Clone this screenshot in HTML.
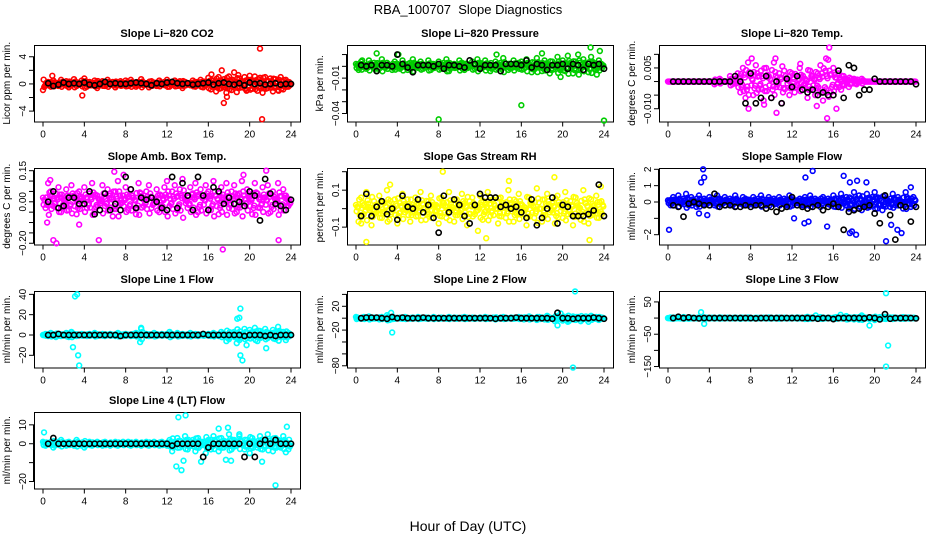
<!DOCTYPE html>
<html><head><meta charset="utf-8">
<style>
html,body{margin:0;padding:0;background:#fff;}
svg{display:block;font-family:"Liberation Sans",sans-serif;}
</style></head>
<body>
<svg id="chart" width="936" height="540" viewBox="0 0 936 540" xmlns="http://www.w3.org/2000/svg">
<text x="468" y="14" text-anchor="middle" font-size="13" style="white-space:pre">RBA_100707  Slope Diagnostics</text>
<text x="468" y="531" text-anchor="middle" font-size="14">Hour of Day (UTC)</text>
</svg>
<script>
const xTicks = [0,4,8,12,16,20,24];

const titles = ["Slope Li\u2212820 CO2","Slope Li\u2212820 Pressure","Slope Li\u2212820 Temp.","Slope Amb. Box Temp.","Slope Gas Stream RH","Slope Sample Flow","Slope Line 1 Flow","Slope Line 2 Flow","Slope Line 3 Flow","Slope Line 4 (LT) Flow"];
const yTitles = ["Licor ppm per min.","kPa per min.","degrees C per min.","degrees C per min.","percent per min.","ml/min per min.","ml/min per min.","ml/min per min.","ml/min per min.","ml/min per min."];
const colors = ["#ff0000","#00cd00","#ff00ff","#ff00ff","#ffff00","#0000ff","#00ffff","#00ffff","#00ffff","#00ffff"];
const yRanges = [[-5.53,5.73],[-0.0468,0.0181],[-0.0147,0.01344],[-0.206,0.163],[-0.194,0.22],[-2.6,2.08],[-32,43.3],[-82.9,45.7],[-153,83.8],[-23.7,16.8]];
const yTickVals = [[-4,-2,0,2,4],[0.01,0,-0.01,-0.02,-0.03,-0.04],[0.01,0.005,0,-0.005,-0.01],[0.15,0.1,0.05,0,-0.05,-0.1,-0.15,-0.2],[0.2,0.1,0,-0.1],[2,1,0,-1,-2],[40,20,0,-20],[40,20,0,-20,-40,-60,-80],[50,0,-50,-100,-150],[10,0,-10,-20]];
const yTickLabels = [{"-4":"\u22124","0":"0","4":"4"},{"-0.01":"\u22120.01","-0.04":"\u22120.04"},{"0.005":"0.005","-0.01":"\u22120.010"},{"0.15":"0.15","0":"0.00","-0.2":"\u22120.20"},{"0.1":"0.1","-0.1":"\u22120.1"},{"2":"2","1":"1","0":"0","-2":"\u22122"},{"40":"40","20":"20","0":"0","-20":"\u221220"},{"20":"20","-20":"\u221220","-80":"\u221280"},{"50":"50","-50":"\u221250","-150":"\u2212150"},{"10":"10","0":"0","-20":"\u221220"}];

// colored series: 96 values at 15-min steps
const colSeries = [
[-0.9,-0.2,0.3,-0.4,0.5,0.1,-0.3,0.6,-0.1,0.4,-0.5,0.2,0.7,-0.3,0.1,0.5,0.8,-0.4,0.3,-0.2,0.5,-0.6,0.2,0.4,-0.3,0.6,-0.1,0.3,-0.5,0.2,0.4,-0.2,0.5,-0.3,0.6,0.2,-0.4,0.3,0.7,-0.2,0.1,-0.5,0.4,0.2,-0.3,0.5,-0.1,0.3,0.6,-0.4,0.2,0.5,-0.3,0.4,-0.6,0.3,0.1,-0.2,0.5,-0.4,0.3,0.6,-0.5,0.2,0.9,-0.8,0.5,-1.1,1.0,-0.6,0.7,-1.3,1.1,-0.9,0.4,-1.2,0.8,-0.5,1.0,-0.9,1.2,-0.7,1.1,-1.0,0.9,-1.3,1.0,-0.6,0.8,-1.1,0.7,-0.9,1.0,-0.8,0.6,-0.4],
[0.002,-0.003,0.004,0.001,-0.002,0.005,0.000,0.003,-0.004,0.002,0.006,-0.001,0.003,0.000,-0.003,0.004,0.002,-0.002,0.005,0.001,-0.003,0.003,0.006,-0.001,0.002,0.004,-0.002,0.001,0.005,-0.003,0.002,0.000,0.004,-0.002,0.003,0.006,-0.004,0.001,0.002,-0.001,0.005,0.003,-0.003,0.002,0.000,0.004,-0.002,0.006,0.003,-0.001,0.005,0.002,-0.004,0.001,0.004,-0.002,0.003,0.007,0.000,-0.003,0.002,0.005,-0.001,0.003,0.004,-0.002,0.006,0.001,-0.005,0.003,0.007,0.000,-0.004,0.005,0.002,-0.006,0.004,0.001,0.008,-0.003,0.005,-0.004,0.009,0.002,-0.006,0.004,0.010,-0.002,0.006,0.001,-0.005,0.008,0.003,-0.003,0.005,0.002],
[0,0,0,0,0,0,0,0,0,0,0,0,0,0,0,0,0,0,-0.001,0,0.001,0,0,0,0.002,-0.001,0.001,0.003,-0.004,0.005,-0.006,0.007,0.002,-0.005,0.006,-0.003,0.004,-0.007,0.005,0.002,-0.006,0.007,-0.002,0.003,-0.008,0.004,0.001,-0.005,0.003,-0.004,0.002,0.005,-0.003,0.001,-0.006,0.004,0.002,-0.005,0.003,0.006,-0.007,0.004,0.008,-0.004,0.005,-0.002,0.003,-0.003,0.002,0.001,-0.002,0.001,0.001,-0.001,0,0.001,0,0,0,0,0,0,0,0,0,0,0,0,0,0,0,0,0,0,0,0],
[0.02,-0.03,0.09,0.05,-0.02,0.04,0.07,-0.05,0.01,0.06,-0.04,0.08,0.03,-0.06,0.05,0.02,0.07,-0.03,0.04,0.09,-0.05,0.03,0.01,0.08,-0.02,0.06,0.04,-0.07,0.05,0.10,-0.01,0.03,0.07,-0.04,0.06,0.02,-0.06,0.09,0.04,-0.02,0.05,0.08,-0.03,0.01,0.06,-0.05,0.03,0.07,0.10,-0.02,0.05,0.08,-0.04,0.06,0.11,0.01,-0.03,0.07,0.04,0.09,-0.05,0.06,0.02,0.08,0.05,-0.04,0.10,0.03,-0.06,0.07,0.01,0.09,-0.03,0.05,0.08,-0.05,0.04,0.10,-0.02,0.06,0.03,-0.06,0.09,0.04,-0.03,0.07,0.02,0.08,-0.05,0.05,0.01,0.09,-0.04,0.06,0.03,-0.02],
[0.02,-0.07,0.06,-0.03,0.09,0.01,-0.09,0.04,-0.02,0.07,-0.05,0.03,0.10,-0.06,0.01,0.05,-0.08,0.03,0.08,-0.02,0.05,-0.07,0.02,0.06,-0.04,0.09,0.00,-0.06,0.04,0.07,-0.03,0.02,-0.08,0.06,0.03,-0.05,0.09,0.01,-0.07,0.05,-0.02,0.08,0.03,-0.09,0.04,0.06,-0.03,0.01,0.07,-0.06,0.02,0.09,-0.04,0.05,0.00,-0.08,0.06,0.03,-0.05,0.10,0.02,-0.07,0.04,0.08,-0.03,0.01,-0.09,0.06,0.03,-0.05,0.11,0.00,-0.07,0.05,0.08,-0.02,0.03,-0.08,0.07,0.02,-0.05,0.09,-0.03,0.04,-0.09,0.06,0.01,-0.06,0.10,0.03,-0.08,0.05,-0.02,0.07,-0.05,0.04],
[0.1,-0.2,0.3,0.0,0.4,-0.1,0.2,0.5,-0.2,0.3,0.1,-0.3,0.4,0.0,0.2,-0.1,0.3,0.1,-0.2,0.4,0.2,-0.1,0.3,0.0,0.2,-0.2,0.4,0.1,-0.1,0.3,0.2,-0.2,0.1,0.3,-0.1,0.2,0.4,0.0,-0.2,0.3,0.1,0.2,-0.1,0.3,0.0,0.2,-0.2,0.4,0.3,-0.1,0.1,0.2,-0.2,0.3,0.0,0.4,-0.1,0.2,0.1,-0.3,0.3,0.0,0.2,-0.2,0.4,-0.3,0.2,0.5,-0.1,0.3,-0.4,0.2,0.6,-0.2,0.4,-0.5,0.1,0.5,-0.3,0.3,0.6,-0.4,0.2,-0.5,0.4,0.1,-0.3,0.5,-0.2,0.3,0.0,-0.4,0.6,0.2,-0.3,0.3],
[0,1,-1,2,0,-2,1,-1,0,2,-2,3,1,-1,0,1,0,-1,1,0,2,-1,0,1,-1,0,1,0,-1,2,0,-1,1,0,-1,1,2,-1,6,0,1,-1,0,2,-1,0,1,0,1,3,-1,0,2,-1,1,0,-1,2,0,1,-1,0,1,0,1,-1,2,0,-1,3,1,-6,-4,2,3,-8,-5,1,6,-3,5,-2,7,-6,4,-1,6,-3,2,5,-4,8,-2,3,-5,2],
[2,0,-1,2,0,3,-1,1,0,-2,2,0,5,-3,2,-1,0,1,-1,2,0,-1,1,0,2,-1,0,1,-1,0,2,0,-1,1,0,-1,2,0,1,-1,0,1,2,-1,0,1,-1,0,1,0,2,-1,0,1,-2,0,1,2,-1,0,1,-1,0,2,1,-2,0,3,-1,0,-3,2,1,-2,4,-1,0,-5,3,1,-4,2,-6,1,3,-3,2,-5,0,3,-2,4,-1,2,-3,1],
[0,2,-2,1,0,-1,3,0,-2,1,0,-1,2,0,-3,1,0,1,-1,0,2,-1,0,1,0,-1,1,0,-2,1,0,2,-1,0,1,-1,0,1,0,2,-1,0,1,-2,0,1,0,-1,1,0,2,-1,0,-3,4,-2,1,0,-1,3,-2,0,1,0,-2,3,-1,2,0,6,-3,1,-4,2,-5,8,-2,1,-3,2,-6,0,3,-2,4,-1,2,-3,1,0,-2,3,-1,2,0,1],
[1,-1,0,1,-2,0,1,2,0,-1,1,0,-1,2,0,-1,-2,0,1,-1,0,1,0,-1,1,0,-1,0,1,-1,0,1,0,1,-1,0,1,0,-1,0,1,-1,0,1,0,-1,1,0,-1,2,-4,1,3,-2,0,4,-3,1,2,-4,3,-1,1,-5,2,-3,4,0,-4,3,-2,1,5,-3,2,-1,4,0,-3,2,-5,3,1,-2,4,-3,2,5,-1,-4,3,2,-2,4,1,-3]
];

// extra (outlier) colored points: [hour, value]
const extraPts = [
[[3.8,-1.7],[21,5.2],[21.2,-5.2],[17.5,-2.8],[17.8,-1.9],[17.3,2.0],[18.5,1.7],[16.3,1.4],[0.9,1.2],[18.9,1.3],[19.7,-1.0],[22.8,-1.0]],
[[8,-0.045],[16,-0.033],[24,-0.046],[22.7,0.016],[23.6,0.013],[4.1,0.010],[2,0.011],[0.6,0.005],[13.6,0.010],[19.8,-0.009],[23.3,-0.007],[18,0.011]],
[[7.8,-0.010],[10.5,-0.0115],[15.4,-0.0135],[15.6,0.0125],[16.3,-0.010],[8.1,0.0085],[10.4,0.0085],[15.3,0.0085],[14.4,-0.009],[9.3,-0.0085],[12.8,0.0065]],
[[0.7,0.105],[1.0,-0.185],[1.3,-0.2],[5.4,-0.185],[6.9,0.145],[17.4,-0.23],[21.6,0.15],[22.8,-0.185],[0.4,-0.10],[7.8,0.13],[19.4,0.13],[3.5,-0.11]],
[[1.0,-0.18],[8.4,0.2],[19.2,0.17],[22.6,-0.17],[12.6,-0.16],[3.3,0.13],[0.5,-0.08],[14.8,0.15],[23.7,0.12],[11.8,-0.12]],
[[3.4,2.0],[3.5,1.5],[3.2,1.2],[13.3,1.5],[14,1.9],[17,1.6],[17.6,1.2],[18.3,1.3],[19.2,1.2],[0.1,-1.7],[17.8,-1.8],[18.2,-2.0],[17.6,-1.9],[21.1,-2.4],[21.6,-1.4],[22.2,-1.7],[22.6,-1.9],[12.2,-1.0],[13.2,-1.3],[13.6,-1.2],[15.4,-1.5],[3,-0.7],[3.8,-0.8],[23.5,0.9]],
[[3.1,38],[3.3,40],[3.4,-20],[3.5,-30],[2.9,-12],[19.1,26],[18.8,16],[19.0,17],[19.1,-20],[19.3,-25],[19.7,-10],[21.6,-13],[9.4,-7],[9.5,7]],
[[3.4,9],[3.5,-24],[19.8,8],[21,-83],[21.2,45],[20.6,-5],[22.5,-6],[19.5,-12]],
[[3.2,18],[3.5,-18],[19.5,-23],[21.1,77],[21.3,-85],[21.1,-150],[16.7,10],[14.3,8]],
[[0.1,6],[13.1,14],[13.8,15],[12.9,-12],[13.4,-14],[13.6,-9],[17,8],[17.9,8.5],[18.2,-9],[17.7,-8.5],[22.5,-22],[23.6,9],[23.5,-4.5],[19.0,5],[15.3,-9.5],[21.2,-9.5]]
];

// black series: 48 values at half-hour steps starting 0.5 h
const blkSeries = [
[0.1,-0.3,-0.1,0.2,0.0,0.1,0.0,0.2,-0.1,-0.2,0.0,0.3,0.0,0.1,0.0,0.0,0.1,0.2,0.1,0.0,-0.2,0.1,0.0,0.2,0.3,0.1,0.0,0.1,-0.1,0.0,0.1,0.2,-0.1,0.1,0.2,0.0,-0.1,0.1,-0.2,0.2,0.0,0.1,-0.1,0.0,0.1,-0.1,0.0,0.0],
[0.001,0.000,0.001,-0.004,0.001,0.001,0.000,0.010,0.002,-0.001,-0.005,0.001,0.001,0.001,0.000,0.002,-0.002,0.001,0.001,0.000,-0.001,0.005,0.002,-0.002,0.001,0.001,0.001,-0.004,0.002,0.002,0.002,0.001,0.005,-0.001,0.002,0.001,-0.003,0.001,0.001,0.002,-0.002,0.002,0.001,-0.003,0.002,0.001,0.002,-0.002],
[0,0,0,0,0,0,0,0,0,0,0,0,0.002,0,-0.008,0.003,-0.008,-0.006,0.002,-0.006,0,-0.008,0.001,-0.002,0.002,-0.003,-0.004,-0.003,-0.005,-0.004,-0.005,-0.005,0.004,-0.006,0.006,0.005,-0.005,-0.003,-0.003,0.001,0,0,0,0,0,0,0,-0.001],
[0.00,0.05,-0.03,-0.02,0.02,0.02,-0.01,-0.01,0.05,-0.06,-0.04,0.04,-0.04,-0.01,-0.04,0.12,0.06,-0.03,0.02,0.01,0.02,0.00,-0.03,-0.04,0.12,-0.03,0.09,0.03,-0.04,0.12,0.03,-0.04,0.07,0.05,-0.01,0.02,-0.01,0.00,-0.02,0.05,0.03,-0.09,0.11,0.04,-0.01,-0.02,-0.04,0.01],
[-0.04,0.08,-0.04,0.01,0.04,-0.03,0.00,-0.06,0.07,0.01,0.00,0.05,-0.02,0.02,-0.05,-0.13,0.07,-0.02,0.05,0.02,-0.04,-0.08,0.02,0.08,0.06,0.06,0.06,0.01,0.02,0.00,0.01,-0.02,-0.05,0.05,-0.09,-0.05,0.00,0.06,-0.08,0.02,0.01,-0.04,-0.04,-0.04,-0.03,-0.01,0.13,-0.04],
[-0.2,-0.3,-0.9,-0.1,0.0,-0.1,-0.2,-0.2,0.5,-0.3,-0.2,-0.2,-0.3,-0.3,-0.2,-0.3,-0.2,-0.2,-0.4,-0.3,-0.6,-0.4,-0.3,0.3,-0.2,-0.3,-0.4,-0.3,-0.2,-0.5,-0.3,-0.1,-0.3,-1.7,-0.6,-0.5,-0.4,-0.3,-0.2,-0.7,-1.3,0.4,-0.8,-2.3,-0.2,-0.3,-1.2,-0.3],
[0,0,1,0,0,0,0,0,0,0,0,0,0,0,-1,0,0,0,0,0,0,0,0,0,0,0,0,0,0,0,1,0,0,0,0,0,0,0,-1,0,0,0,-1,0,-1,0,0,0],
[0,1,1,1,0,-1,2,0,1,0,0,0,1,0,0,0,0,0,0,0,0,0,0,0,0,0,-1,0,0,0,1,0,0,0,0,0,0,-1,9,0,0,-1,0,0,0,1,0,-1],
[0,4,0,2,0,-1,0,0,0,0,0,0,0,0,0,0,-1,0,0,0,0,0,0,0,0,0,0,0,-2,0,0,-3,0,0,0,0,0,-1,2,0,-4,12,-2,0,0,0,0,-1],
[0,3,0,0,0,0,0,0,0,0,0,0,0,0,0,0,0,0,0,0,0,0,0,0,-1,0,0,0,0,0,-7,-2,0,0,0,0,0,0,-7,0,-7,0,2,0,2,0,0,0]
];

const svg = document.getElementById('chart');
const NS = 'http://www.w3.org/2000/svg';
const colX = [34,347,659], colW = 266;
const rowY = [45,168,291,412], rowH = 76.5;
function mk(tag, attrs, parent){ const e=document.createElementNS(NS,tag); for(const k in attrs) e.setAttribute(k,attrs[k]); (parent||svg).appendChild(e); return e; }
function fmtKey(v){ return String(+v.toFixed(6)); }
const jitter = [[0,1],[0.125,0.5],[0.0625,-0.7],[0.1875,0.3]];

for(let p=0;p<10;p++){
  const bx = colX[p%3], by = rowY[Math.floor(p/3)];
  const g = mk('g',{});
  
  
  const xs = h => bx + 9 + h*(colW-18)/24;
  const [y0,y1] = yRanges[p];
  const ys = v => by + rowH - (v-y0)/(y1-y0)*rowH;
  const t = mk('text',{x:bx+colW/2,y:by-8,'text-anchor':'middle','font-size':11,'font-weight':'bold'},g);
  t.textContent = titles[p];
  
  
  const yt = mk('text',{x:0,y:0,'text-anchor':'middle','font-size':10,transform:`translate(${bx-24},${by+rowH/2}) rotate(-90)`},g);
  yt.textContent = yTitles[p];
  
  
  const xa = mk('g',{stroke:'#000','stroke-width':1},g);
  
  
  mk('line',{x1:xs(0),x2:xs(24),y1:by+rowH+0.5,y2:by+rowH+0.5},xa);
  xTicks.forEach(v=>{
    mk('line',{x1:xs(v),x2:xs(v),y1:by+rowH,y2:by+rowH+5},xa);
    const l = mk('text',{x:xs(v),y:by+rowH+16,'text-anchor':'middle','font-size':10,stroke:'none'},g);
    l.textContent = v;
    
    
  });
  const ya = mk('g',{stroke:'#000','stroke-width':1},g);
  
  
  yTickVals[p].forEach(v=>{
    const yy = ys(v);
    mk('line',{x1:bx-5,x2:bx,y1:yy,y2:yy},ya);
    const lab = yTickLabels[p][fmtKey(v)];
    if(lab!==undefined){
      const l = mk('text',{x:0,y:0,'text-anchor':'middle','font-size':10,transform:`translate(${bx-8},${yy}) rotate(-90)`},g);
      l.textContent = lab;
      
      
    }
  });
  const yTop = ys(Math.max(...yTickVals[p])), yBot = ys(Math.min(...yTickVals[p]));
  mk('line',{x1:bx-0.5,x2:bx-0.5,y1:yTop,y2:yBot,stroke:'#000'},ya);
  const box = mk('rect',{x:bx+0.5,y:by+0.5,width:colW,height:rowH,fill:'none',stroke:'#000','stroke-width':1},g);
  
  
  const cg = mk('g',{fill:'none',stroke:colors[p],'stroke-width':1.6},g);
  
  
  colSeries[p].forEach((v,i)=>{
    jitter.forEach(([dx,f])=>{
      const c = mk('circle',{cx:xs(i/4+dx),cy:ys(v*f),r:2.4},cg);
      
      
    });
  });
  extraPts[p].forEach(([h,v])=>{
    const c = mk('circle',{cx:xs(h),cy:ys(v),r:2.4},cg);
    
    
  });
  const kg = mk('g',{fill:'none',stroke:'#000','stroke-width':1.6},g);
  
  
  blkSeries[p].forEach((v,i)=>{
    const c = mk('circle',{cx:xs(0.5+i*0.5),cy:ys(v),r:2.6},kg);
    
    
  });
}
</script>
</body></html>
